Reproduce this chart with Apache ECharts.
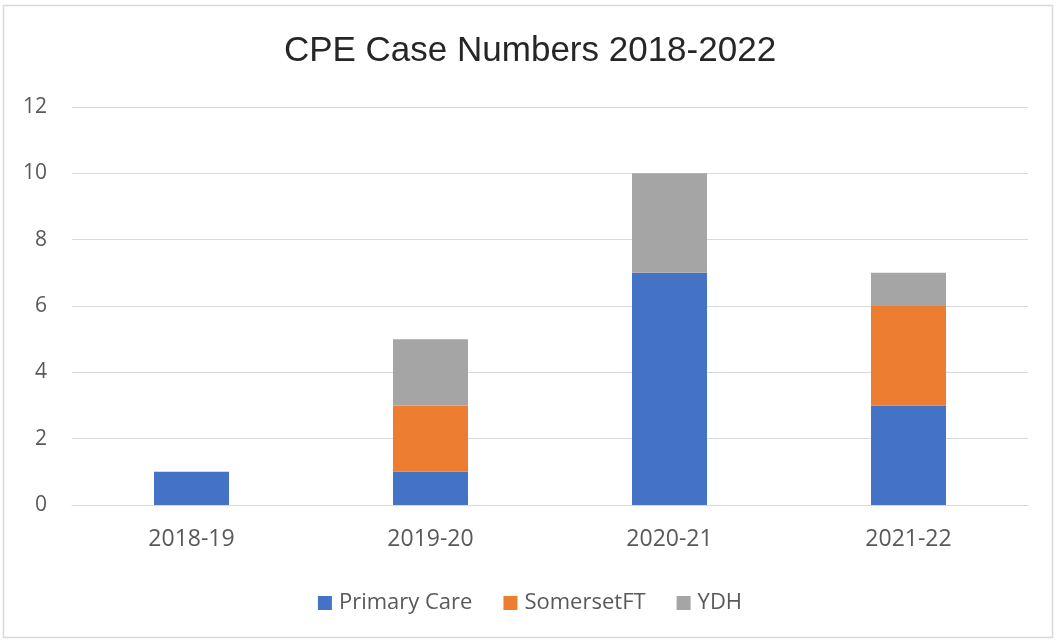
<!DOCTYPE html>
<html>
<head>
<meta charset="utf-8">
<script src="https://cdn.jsdelivr.net/npm/echarts@6/dist/echarts.min.js"></script>
<style>
  html, body { margin: 0; padding: 0; background: #ffffff; }
  #chart { width: 1060px; height: 642px; }
</style>
</head>
<body>
<div id="chart"></div>
<script>
// Financial years
const categories = ['2018-19', '2019-20', '2020-21', '2021-22'];
// Case counts per organisation
const primaryCare = [1, 1, 7, 3];
const somersetFT = [0, 2, 0, 3];
const ydh = [0, 2, 3, 1];

const textColor = '#595959';
const labelFont = '"Open Sans", "Noto Sans", sans-serif';
const titleFont = '"Liberation Sans", Arial, sans-serif';

const chart = echarts.init(document.getElementById('chart'), null, { renderer: 'canvas' });

function barSeries(name, data, color) {
  return {
    name: name,
    type: 'bar',
    stack: 'cases',
    data: data,
    barWidth: 75,
    itemStyle: { color: color },
    emphasis: { disabled: true }
  };
}

chart.setOption({
  backgroundColor: '#ffffff',
  animation: false,
  title: {
    text: 'CPE Case Numbers 2018-2022',
    left: 'center',
    top: 29,
    textStyle: { fontFamily: titleFont, fontSize: 35, fontWeight: 'normal', color: '#262626' }
  },
  legend: {
    top: 587,
    left: 'center',
    itemWidth: 14,
    itemHeight: 14,
    itemGap: 31,
    icon: 'rect',
    textStyle: { fontFamily: labelFont, fontSize: 22, color: textColor, padding: [0, 0, 0, 2] },
    data: ['Primary Care', 'SomersetFT', 'YDH']
  },
  grid: { left: 72, right: 32, top: 107, bottom: 137, containLabel: false },
  xAxis: {
    type: 'category',
    data: categories,
    axisLine: { show: true, lineStyle: { color: '#d9d9d9', width: 1 } },
    axisTick: { show: false },
    axisLabel: { fontFamily: labelFont, fontSize: 23, color: textColor, margin: 23 }
  },
  yAxis: {
    type: 'value',
    min: 0,
    max: 12,
    interval: 2,
    axisLine: { show: false },
    axisTick: { show: false },
    splitLine: { lineStyle: { color: '#d9d9d9', width: 1 } },
    axisLabel: { fontFamily: labelFont, fontSize: 21, color: textColor, margin: 25 }
  },
  graphic: [{
    type: 'rect',
    shape: { x: 3.5, y: 5.5, width: 1049, height: 632 },
    style: { fill: null, stroke: '#d9d9d9', lineWidth: 1.5 },
    silent: true,
    z: 100
  }],
  series: [
    barSeries('Primary Care', primaryCare, '#4472C4'),
    barSeries('SomersetFT', somersetFT, '#ED7D31'),
    barSeries('YDH', ydh, '#A5A5A5')
  ]
});
</script>
</body>
</html>
